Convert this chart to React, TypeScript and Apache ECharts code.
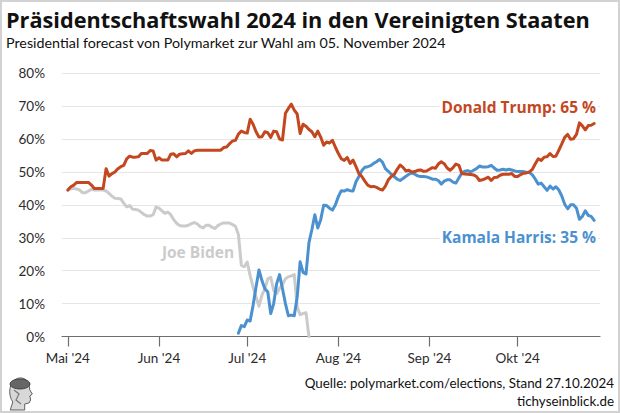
import { useEffect, useRef } from 'react';
import * as echarts from 'echarts';

// ---------- data ----------
const firstDay = Date.UTC(2024, 3, 29); // 29 Apr 2024
const dayCount = 184; // through 29 Oct 2024
const categories: string[] = [];
for (let i = 0; i < dayCount; i++) {
  categories.push(new Date(firstDay + i * 86400000).toISOString().slice(0, 10));
}

const monthTickLabels: Record<string, string> = {
  '05': "Mai '24",
  '06': "Jun '24",
  '07': "Jul '24",
  '08': "Aug '24",
  '09': "Sep '24",
  '10': "Okt '24",
};

const yTicks = [0, 10, 20, 30, 40, 50, 60, 70, 80];

const trumpStart = '2024-05-01';
const trumpValues = [
  44.5, 45.5, 46, 46.8, 46.8, 46.8, 46.8, 46.8, 46, 45,
  45, 45, 45, 51, 48.7, 49.5, 50, 51, 51.6, 52,
  54, 54.8, 54.5, 54.5, 54.6, 55.6, 55.6, 55.6, 56.5, 56.4,
  53.6, 54.3, 53.6, 53.6, 53.6, 55.4, 55.5, 54.6, 55.4, 55.5,
  55.6, 56.4, 55.6, 56.4, 56.6, 56.6, 56.6, 56.6, 56.6, 56.6,
  56.6, 56.6, 56.6, 57.4, 57.6, 58.6, 59.4, 59.6, 61.5, 62.4,
  62, 61.8, 66, 64.5, 62.2, 60.6, 60.7, 62.2, 61.9, 60.5,
  62.4, 62.2, 60, 59.7, 67.8, 69.3, 70.6, 68.8, 67.6, 61.7,
  64.5, 63.9, 62.9, 62.2, 60.7, 62.4, 60.6, 58.1, 59.1, 58.8,
  59.6, 57.5, 55.6, 54, 53.5, 54.4, 52.6, 53.6, 51.6, 49.5,
  48.6, 47.2, 46, 45.5, 45.6, 45.3, 44.8, 44.5, 45.7, 47.6,
  48.6, 49.2, 50.8, 52.1, 51.4, 50.3, 50.5, 50, 50.1, 50.5,
  50.6, 50.2, 50.3, 50.8, 51.3, 51.1, 52.4, 53.1, 52.5, 51.2,
  50.5, 51.3, 52.4, 52, 49.5, 49.4, 49.3, 49.2, 49.1, 48.6,
  47.4, 47.6, 48, 48.4, 47.4, 48.3, 48.4, 49, 49.3, 49.3,
  49.3, 49.5, 48.6, 48.6, 49.2, 49.6, 49.7, 50, 50.8, 52.5,
  54, 53.5, 54.5, 54.6, 55.6, 54.7, 54.8, 56.6, 58.5, 60.5,
  61.4, 59.9, 60.1, 61.4, 64.9, 64, 62.8, 64.1, 64.2, 64.7,
];

const bidenStart = '2024-05-01';
const bidenValues = [
  44.5, 44.9, 45, 44.8, 44.5, 43.7, 43.7, 44.2, 44.7, 44.5,
  44.5, 44.5, 44.5, 44.2, 43.5, 42.6, 42, 41.9, 41.8, 40.5,
  39.4, 39.8, 38.7, 38.6, 38.4, 37.7, 37, 36.6, 36.6, 37,
  39.3, 39, 38.2, 37.4, 37.8, 37, 35.5, 34.4, 33.7, 33.6,
  33.6, 33.8, 34.3, 34.6, 34.2, 33.4, 33, 33.8, 33.8, 33.2,
  32.8, 33.7, 34.2, 34.5, 34.5, 34.5, 34, 33.5, 31, 21.7,
  21.2, 22.6, 18.5, 15, 12, 9.2, 12.6, 14.5, 17.5, 18,
  14, 13, 14.6, 15.8, 17.5, 18.2, 18.4, 18.8, 9, 6.6,
  7, 7.2, 0,
];

const harrisStart = '2024-06-28';
const harrisValues = [
  1, 3.3, 3, 5, 4.7, 9.5, 15, 20.2, 17, 14.5,
  13.5, 7, 10, 16, 18.8, 14.5, 10, 6.3, 6.5, 6.3,
  12, 22.7, 19.5, 19, 28.5, 32.5, 37, 33, 35.5, 39.9,
  39.8, 39, 38.4, 40, 42.5, 44.3, 44.2, 44.6, 44.3, 44.2,
  47, 48.6, 50.4, 51.4, 51.6, 51.9, 52.6, 53.1, 53.8, 53,
  51, 50.2, 49.3, 48.6, 47.8, 47.4, 48, 48.7, 49.3, 49.7,
  49.3, 48.8, 48.6, 48.6, 48.5, 48.2, 47.8, 47.8, 47.4, 46.3,
  47.2, 47.6, 47.6, 46.9, 46.6, 48.2, 49.6, 50.2, 50.4, 50,
  50.5, 51, 51.8, 51.5, 51.5, 51.6, 52, 51.2, 50.5, 50.6,
  50.8, 50.6, 50.8, 50.6, 50.3, 50.1, 50.1, 50.1, 49.9, 49.8,
  49.1, 47.8, 46.3, 46.6, 45.5, 44.4, 45.7, 44.8, 45.5, 44.5,
  42.7, 40.2, 38.8, 40, 40, 39, 35.6, 36.5, 38.2, 36.8,
  36.5, 35.3,
];

const trumpLabel = 'Donald Trump: 65 %';
const harrisLabel = 'Kamala Harris: 35 %';
const bidenLabel = 'Joe Biden';

// ---------- helpers ----------
function alignToCategories(start: string, values: number[]) {
  const idx = categories.indexOf(start);
  const out: (number | null)[] = new Array(dayCount).fill(null);
  values.forEach((v, i) => {
    out[idx + i] = v;
  });
  return out;
}

const isMonthStart = (_i: number, value: string) => value.endsWith('-01');

const FONT = 'Lato';
const BOLDFONT = 'Open Sans';
const TRUMP = '#c3471f';
const HARRIS = '#4b91cf';
const BIDEN = '#cbcbcb';

echarts.graphic.registerShape(
  'tichyHead',
  echarts.graphic.extendPath(
    'M9 5 C14 0 24 1 27 8 L28 14 L31 18 L28 20 L29 24 L27 27 L22 28 L22 34 L5 34 L8 26 C3 20 3 10 9 5 Z',
    {}
  )
);

export default function App() {
  const ref = useRef<HTMLDivElement>(null);

  useEffect(() => {
    if (!ref.current) return;
    const chart = echarts.init(ref.current, undefined, { renderer: 'svg' });
    const lineSeries = (name: string, data: (number | null)[], color: string, z: number) => ({
      name,
      type: 'line',
      data,
      showSymbol: false,
      symbol: 'none',
      connectNulls: false,
      z,
      lineStyle: { color, width: 3, join: 'round', cap: 'round' },
      itemStyle: { color },
      emphasis: { disabled: true },
      silent: true,
    });

    const seriesLabel = (text: string, x: number, y: number, color: string, align: string) => ({
      type: 'text',
      x,
      y,
      z: 50,
      style: {
        text,
        fontFamily: BOLDFONT,
        fontWeight: 'bold',
        fontSize: 15.5,
        fill: color,
        align,
        verticalAlign: 'middle',
        backgroundColor: '#ffffff',
        padding: [1, 2],
      },
    });

    chart.setOption({
      animation: false,
      backgroundColor: '#ffffff',
      textStyle: { fontFamily: FONT },
      grid: { left: 62, right: 20, top: 73.2, bottom: 76.5, containLabel: false },
      xAxis: {
        type: 'category',
        data: categories,
        boundaryGap: false,
        axisLine: { show: true, lineStyle: { color: '#6e6e6e', width: 1.2 } },
        axisTick: {
          show: true,
          interval: isMonthStart,
          length: 10,
          lineStyle: { color: '#6e6e6e', width: 1.2 },
        },
        axisLabel: {
          interval: isMonthStart,
          formatter: (v: string) => monthTickLabels[v.slice(5, 7)] ?? '',
          color: '#2b2b2b',
          fontSize: 13.5,
          fontFamily: FONT,
          margin: 14,
        },
        splitLine: { show: false },
      },
      yAxis: {
        type: 'value',
        min: yTicks[0],
        max: yTicks[yTicks.length - 1],
        interval: 10,
        axisLine: { show: false },
        axisTick: { show: false },
        axisLabel: {
          formatter: '{value}%',
          color: '#2b2b2b',
          fontSize: 13.5,
          fontFamily: FONT,
          margin: 17,
        },
        splitLine: { show: true, lineStyle: { color: '#e6e6e6', width: 1 } },
      },
      series: [
        lineSeries('Joe Biden', alignToCategories(bidenStart, bidenValues), BIDEN, 2),
        lineSeries('Kamala Harris', alignToCategories(harrisStart, harrisValues), HARRIS, 3),
        lineSeries('Donald Trump', alignToCategories(trumpStart, trumpValues), TRUMP, 4),
      ],
      graphic: [
        {
          type: 'rect',
          shape: { x: 1, y: 1, width: 618, height: 411 },
          style: { fill: 'none', stroke: '#d2d2d2', lineWidth: 2 },
          silent: true,
          z: 100,
        },
        {
          type: 'text',
          x: 6,
          y: 19,
          style: {
            text: 'Präsidentschaftswahl 2024 in den Vereinigten Staaten',
            fontFamily: BOLDFONT,
            fontWeight: 'bold',
            fontSize: 21.7,
            fill: '#111',
            verticalAlign: 'middle',
          },
        },
        {
          type: 'text',
          x: 6,
          y: 42,
          style: {
            text: 'Presidential forecast von Polymarket zur Wahl am 05. November 2024',
            fontFamily: FONT,
            fontSize: 14.3,
            fill: '#111',
            verticalAlign: 'middle',
          },
        },
        seriesLabel(trumpLabel, 598, 107, TRUMP, 'right'),
        seriesLabel(harrisLabel, 598, 237, HARRIS, 'right'),
        seriesLabel(bidenLabel, 198, 252, BIDEN, 'center'),
        {
          type: 'text',
          x: 614,
          y: 383,
          style: {
            text: 'Quelle: polymarket.com/elections, Stand 27.10.2024',
            fontFamily: FONT,
            fontSize: 13.4,
            fill: '#111',
            align: 'right',
            verticalAlign: 'middle',
          },
        },
        {
          type: 'text',
          x: 614,
          y: 401,
          style: {
            text: 'tichyseinblick.de',
            fontFamily: FONT,
            fontSize: 13.4,
            fill: '#111',
            align: 'right',
            verticalAlign: 'middle',
          },
        },
        {
          type: 'group',
          x: 6,
          y: 376,
          children: [
            {
              type: 'tichyHead',
              x: 0,
              y: 0,
              scaleX: 0.85,
              scaleY: 1,
              style: { fill: '#d8d8d8', stroke: '#555', lineWidth: 1 },
            },
            {
              type: 'ellipse',
              shape: { cx: 14, cy: 8, rx: 10, ry: 5 },
              style: { fill: '#666', stroke: '#333', lineWidth: 0.8 },
            },
            {
              type: 'polyline',
              shape: { points: [[8, 14], [13, 18], [10, 24], [15, 28]] },
              style: { stroke: '#777', lineWidth: 1.2, fill: 'none' },
            },
          ],
        },
      ],
    });

    return () => chart.dispose();
  }, []);

  return (
    <div
      ref={ref}
      style={{ position: 'fixed', left: 0, top: 0, width: 620, height: 413, background: '#fff' }}
    />
  );
}
